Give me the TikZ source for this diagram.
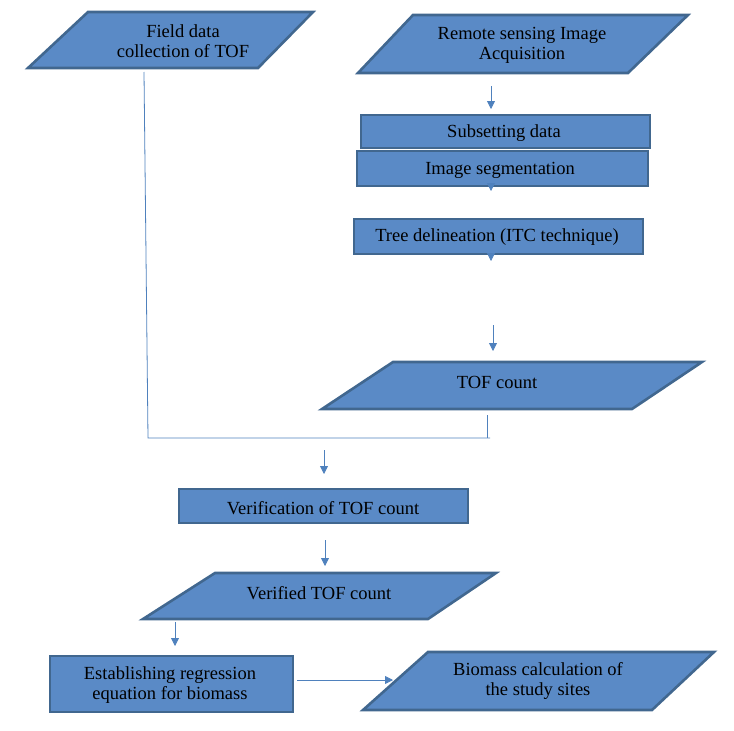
\documentclass[tikz,border=0pt]{standalone}
\usepackage{fontspec}
\setmainfont{Liberation Serif}
\usetikzlibrary{arrows.meta}
\definecolor{boxfill}{HTML}{5A8AC6}
\definecolor{boxedge}{HTML}{41678F}
\definecolor{conn}{HTML}{4F81BD}
\tikzset{
  x=1pt, y=-1pt,
  shapebox/.style={fill=boxfill, draw=boxedge, line width=2.6pt, line join=miter},
  lbl/.style={align=center, font=\fontsize{18.5}{20}\selectfont, inner sep=0pt},
  conline/.style={draw=conn, line width=0.8pt},
  conarrow/.style={conline, -{Triangle[length=8pt,width=8pt]}},
}
\begin{document}
\begin{tikzpicture}
\useasboundingbox (0,0) rectangle (734,731);
% shapes
\path[shapebox] (88,12) -- (313,12) -- (258,68) -- (28,68) -- cycle;
\path[shapebox] (413,15) -- (688,15) -- (628,73) -- (358,73) -- cycle;
\path[shapebox] (361,115) rectangle (650,148);
\path[shapebox] (357,151) rectangle (648,186);
\path[shapebox] (354,219) rectangle (643,254);
\path[shapebox] (393,362) -- (702,362) -- (632,409) -- (322,409) -- cycle;
\path[shapebox] (179,489) rectangle (468,523);
\path[shapebox] (215,573) -- (496,573) -- (428,619) -- (143,619) -- cycle;
\path[shapebox] (50,656) rectangle (293,712);
\path[shapebox] (428,652) -- (714,652) -- (652,710) -- (363,710) -- cycle;
% labels
\node[lbl] (field) at (183,41) {Field data\\collection of TOF};
\node[lbl] (remote) at (522,45) {Remote sensing Image\\Acquisition};
\node[lbl] (subset) at (504,133) {Subsetting data};
\node[lbl] (seg) at (500,170) {Image segmentation};
\node[lbl] (tree) at (497,237) {Tree delineation (ITC technique)};
\node[lbl] (tof) at (497,382) {TOF count};
\node[lbl] (verif) at (323,508) {Verification of TOF count};
\node[lbl] (verified) at (319,593) {Verified TOF count};
\node[lbl] (estab) at (170,685) {Establishing regression\\equation for biomass};
\node[lbl] (bio) at (538,681) {Biomass calculation of\\the study sites};
% connector coordinates
\coordinate (a1s) at (491,86);  \coordinate (a1e) at (491,109);
\coordinate (a2s) at (491,186); \coordinate (a2e) at (491,191);
\coordinate (a3s) at (491,254); \coordinate (a3e) at (491,261);
\coordinate (a4s) at (493,325); \coordinate (a4e) at (493,351);
\coordinate (fl1) at (144,72);  \coordinate (fl2) at (148,438);
\coordinate (fl3) at (490,438); \coordinate (tl1) at (487,415);
\coordinate (tl2) at (487,438);
\coordinate (a5s) at (324,450); \coordinate (a5e) at (324,474);
\coordinate (a6s) at (325,540); \coordinate (a6e) at (325,566);
\coordinate (a7s) at (175,622); \coordinate (a7e) at (175,646);
\coordinate (a8s) at (297,680); \coordinate (a8e) at (393,680);
% connectors
\draw[conarrow] (a1s) -- (a1e);
\draw[conarrow] (a2s) -- (a2e);
\draw[conarrow] (a3s) -- (a3e);
\draw[conarrow] (a4s) -- (a4e);
\draw[conline] (fl1) -- (fl2) -- (fl3);
\draw[conline] (tl1) -- (tl2);
\draw[conarrow] (a5s) -- (a5e);
\draw[conarrow] (a6s) -- (a6e);
\draw[conarrow] (a7s) -- (a7e);
\draw[conarrow] (a8s) -- (a8e);
\end{tikzpicture}
\end{document}
